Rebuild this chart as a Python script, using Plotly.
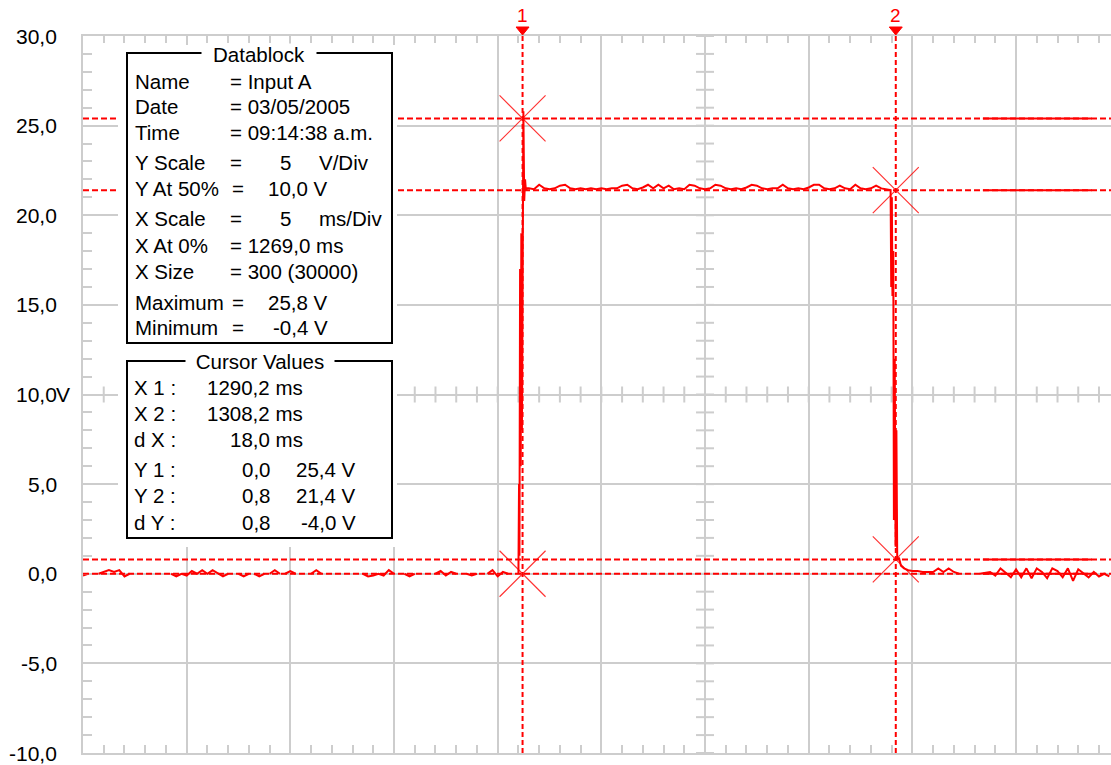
import plotly.graph_objects as go

# ---------------- acquisition / display settings ----------------
T0 = 1269.0            # X At 0 % (ms)
T_END = 1318.58        # right edge of the visible window (ms)
T_CENTER = 1299.0      # time of the crossed-tick reference axis
V_MIN, V_MAX = -10.0, 30.0
V_CENTER = 10.0        # Y At 50 %
DT = 0.25              # sample spacing of the stored trace (ms)

y_tick_vals = [30, 25, 20, 15, 10, 5, 0, -5, -10]
y_tick_text = ["30,0", "25,0", "20,0", "15,0", "10,0", "5,0", "0,0", "-5,0", "-10,0"]
y_center_unit = "V"

# ---------------- cursors ----------------
cursor_x = [1290.2, 1308.2]      # X1, X2 (ms)
cursor_ya = [0.0, 0.8]           # first Y reading per cursor (V)
cursor_yb = [25.4, 21.4]         # second Y reading per cursor (V)

# ---------------- captured waveform (V) ----------------
pre_v = [-0.1, 0, 0, 0, 0.1, 0.2, 0.1, 0.2, -0.15, 0,
         0, 0, 0, 0, 0, 0, 0, 0, -0.15, 0,
         -0.1, 0.15, 0, 0.2, 0, 0.2, 0, -0.15, 0, 0,
         0, -0.15, 0, 0, -0.15, 0, 0, 0.2, 0, 0,
         0.15, 0, 0, 0, 0, 0.2, 0, 0, 0, 0,
         0, 0, 0, 0, 0, -0.15, -0.1, 0, -0.1, 0.2,
         0, 0, 0, -0.15, 0, 0, 0, 0, 0, 0.15,
         -0.1, 0.1, 0, 0, 0, -0.1, 0, 0, 0, 0.2,
         -0.15, 0.1, 0, 0]

rise_t = [1290.00, 1290.03, 1290.05, 1290.08, 1290.11, 1290.14, 1290.17,
          1290.20, 1290.24, 1290.28, 1290.32, 1290.36, 1290.42]
rise_v = [0.0, 5.0, 1.0, 17.0, 6.0, 19.0, 8.0, 21.0, 25.8, 20.8, 22.0, 21.4, 21.5]

high_t0 = 1290.5
high_v = [21.5, 21.45, 21.7, 21.5, 21.45, 21.5, 21.65, 21.7, 21.5, 21.45,
          21.5, 21.45, 21.5, 21.45, 21.5, 21.45, 21.5, 21.5, 21.65, 21.7,
          21.5, 21.45, 21.55, 21.7, 21.5, 21.7, 21.5, 21.65, 21.45, 21.5,
          21.45, 21.7, 21.65, 21.5, 21.45, 21.5, 21.7, 21.65, 21.5, 21.45,
          21.5, 21.45, 21.55, 21.7, 21.65, 21.5, 21.45, 21.5, 21.5, 21.7,
          21.5, 21.45, 21.5, 21.45, 21.55, 21.7, 21.7, 21.5, 21.45, 21.5,
          21.65, 21.5, 21.45, 21.7, 21.5, 21.45, 21.5, 21.65, 21.5, 21.45]

fall_t = [1307.95, 1307.98, 1308.01, 1308.04, 1308.08, 1308.11, 1308.15,
          1308.19, 1308.23, 1308.27, 1308.35, 1308.45, 1308.60, 1308.80]
fall_v = [21.4, 16.0, 21.0, 15.5, 18.0, 3.0, 12.0, 1.5, 8.0, 0.8, 0.9, 0.45, 0.3, 0.2]

post_t0 = 1309.0
post_v = [0.15, 0.15, 0.1, 0.1, 0.1, 0.3, 0.1, 0.3, 0.1, 0,
          0, 0, 0, 0, 0.05, 0.1, -0.1, 0.3, 0.05, -0.2,
          0.25, -0.2, 0.3, -0.25, 0.3, 0.1, -0.25, 0.3, 0.15, -0.2,
          0.3, -0.4, 0.25, 0.05, -0.2, 0.1, -0.15, 0, -0.15]

# span where the levels are held solid on screen
hold_t = [1312.4, 1317.65]

# ---------------- page geometry ----------------
W, H = 1111, 765
ML, MR, MT, MB = 83, 0, 36, 12
PW, PH = W - ML - MR, H - MT - MB

GRID = "#cdcdcd"
RED = "#ff0000"
FONT = "Liberation Sans, Arial, sans-serif"


def fx(px):
    return (px - ML) / PW


def fy(py):
    return (H - MB - py) / PH


def dec(v):
    return f"{v:.1f}".replace(".", ",")


# assemble the sample record
pre_t = [T0 + DT * i for i in range(len(pre_v))]
high_t = [high_t0 + DT * k for k in range(len(high_v))]
post_t = [post_t0 + DT * j for j in range(len(post_v))]
wave_t = pre_t + rise_t + high_t + fall_t + post_t
wave_v = pre_v + rise_v + high_v + fall_v + post_v

# samples sitting exactly on the 0 V cursor line are XOR-drawn away
px_t, px_v = [], []
for i in range(len(wave_t)):
    px_t.append(wave_t[i])
    px_v.append(wave_v[i])
    if i + 1 < len(wave_t) and wave_v[i] == 0 and wave_v[i + 1] == 0:
        px_t.append(None)
        px_v.append(None)

fig = go.Figure()

fig.add_trace(go.Scatter(x=px_t, y=px_v, mode="lines",
                         line=dict(color=RED, width=2),
                         connectgaps=False, hoverinfo="skip", showlegend=False))

# solid held levels
levels = cursor_yb + cursor_ya
hx, hy = [], []
for lv in levels:
    hx += [hold_t[0], hold_t[1], None]
    hy += [lv, lv, None]
fig.add_trace(go.Scatter(x=hx, y=hy, mode="lines", line=dict(color=RED, width=2),
                         hoverinfo="skip", showlegend=False))

# cursor crossing markers
mx = [cursor_x[0], cursor_x[0], cursor_x[1], cursor_x[1]]
my = [cursor_yb[0], cursor_ya[0], cursor_yb[1], cursor_ya[1]]
fig.add_trace(go.Scatter(x=mx, y=my, mode="markers",
                         marker=dict(symbol="x-thin", size=46,
                                     line=dict(color="rgba(255,0,0,0.8)", width=1.2)),
                         hoverinfo="skip", showlegend=False))

# carrier for the top border axis
fig.add_trace(go.Scatter(x=[T0], y=[V_MIN], xaxis="x2", mode="markers",
                         marker=dict(size=1, opacity=0), hoverinfo="skip",
                         showlegend=False))

shapes = []
# crossed ticks on the centre reference axes
t = int(T0) + 1
while t < T_END:
    shapes.append(dict(type="line", xref="x", yref="y", x0=t, x1=t,
                       ysizemode="pixel", yanchor=V_CENTER, y0=-8, y1=8,
                       line=dict(color=GRID, width=2), layer="below"))
    t += 1
for v in range(int(V_MIN), int(V_MAX) + 1):
    shapes.append(dict(type="line", xref="x", yref="y", y0=v, y1=v,
                       xsizemode="pixel", xanchor=T_CENTER, x0=-9, x1=9,
                       line=dict(color=GRID, width=2), layer="below"))

# dashed cursor lines
for cx in cursor_x:
    shapes.append(dict(type="line", xref="x", yref="y", x0=cx, x1=cx,
                       y0=V_MIN, y1=V_MAX,
                       line=dict(color=RED, width=2, dash="5px,3px")))
for cy in cursor_ya + cursor_yb:
    shapes.append(dict(type="line", xref="x", yref="y", x0=T0, x1=T_END,
                       y0=cy, y1=cy,
                       line=dict(color=RED, width=2, dash="6px,3px")))

# cursor flags (small down-pointing triangles above the graticule)
for cx in cursor_x:
    shapes.append(dict(type="path", xref="x", yref="paper",
                       xsizemode="pixel", ysizemode="pixel",
                       xanchor=cx, yanchor=1,
                       path="M-6.5,9 L6.5,9 L0,1 Z",
                       fillcolor=RED, line=dict(color=RED, width=1)))

# information panels
shapes.append(dict(type="rect", xref="paper", yref="paper",
                   x0=fx(118), x1=fx(397), y0=fy(547), y1=fy(45),
                   fillcolor="white", line=dict(width=0)))
shapes.append(dict(type="rect", xref="paper", yref="paper",
                   x0=fx(127), x1=fx(392), y0=fy(343), y1=fy(53),
                   fillcolor="white", line=dict(color="black", width=2)))
shapes.append(dict(type="rect", xref="paper", yref="paper",
                   x0=fx(127), x1=fx(392), y0=fy(538), y1=fy(361),
                   fillcolor="white", line=dict(color="black", width=2)))

ann = []
TXT = dict(family=FONT, size=20.5, color="black")


def text(s, xpx, ypx, anchor="left", font=TXT, **kw):
    ann.append(dict(text=s, xref="paper", yref="paper", x=fx(xpx), y=fy(ypx),
                    xanchor=anchor, yanchor="middle", showarrow=False,
                    font=font, **kw))


# y tick labels
for val, lab in zip(y_tick_vals, y_tick_text):
    ann.append(dict(text=lab, xref="paper", yref="y", x=fx(59), y=val,
                    xanchor="right", yanchor="middle", showarrow=False,
                    font=dict(family=FONT, size=21, color="black")))
    if val == V_CENTER:
        ann.append(dict(text=y_center_unit, xref="paper", yref="y", x=fx(54), y=val,
                        xanchor="left", yanchor="middle", showarrow=False,
                        font=dict(family=FONT, size=21, color="black")))

# cursor numbers
for i, cx in enumerate(cursor_x):
    ann.append(dict(text=str(i + 1), xref="x", yref="paper", x=cx, y=fy(15),
                    xanchor="center", yanchor="middle", showarrow=False,
                    font=dict(family=FONT, size=19, color=RED)))

# Datablock
text("Datablock", 259, 54, "center", bgcolor="white", width=112, height=18)
v_max = max(wave_v)
v_min = min(wave_v)
datablock = [
    (82, [("Name", 133, "left"), ("= Input A", 228, "left")]),
    (107, [("Date", 133, "left"), ("= 03/05/2005", 228, "left")]),
    (133, [("Time", 133, "left"), ("= 09:14:38 a.m.", 228, "left")]),
    (163, [("Y Scale", 133, "left"), ("=", 228, "left"), ("5", 293, "right"),
           ("V/Div", 317, "left")]),
    (189, [("Y At 50%", 133, "left"), ("=", 230, "left"),
           (dec(V_CENTER) + " V", 330, "right")]),
    (218, [("X Scale", 133, "left"), ("=", 228, "left"), ("5", 293, "right"),
           ("ms/Div", 317, "left")]),
    (245, [("X At 0%", 133, "left"), ("= " + dec(T0) + " ms", 228, "left")]),
    (271, [("X Size", 133, "left"), ("= 300 (30000)", 228, "left")]),
    (302, [("Maximum", 133, "left"), ("=", 230, "left"), (dec(v_max) + " V", 330, "right")]),
    (327, [("Minimum", 133, "left"), ("=", 230, "left"), (dec(v_min) + " V", 330, "right")]),
]
for ypx, items in datablock:
    for s, xpx, a in items:
        text(s, xpx, ypx, a)

# Cursor Values
text("Cursor Values", 260, 361, "center", bgcolor="white", width=146, height=18)
dx = cursor_x[1] - cursor_x[0]
cursor_rows = [
    (388, "X 1 :", [(dec(cursor_x[0]) + " ms", 305)]),
    (413, "X 2 :", [(dec(cursor_x[1]) + " ms", 305)]),
    (439, "d X :", [(dec(dx) + " ms", 305)]),
    (469, "Y 1 :", [(dec(cursor_ya[0]), 273), (dec(cursor_yb[0]) + " V", 358)]),
    (495, "Y 2 :", [(dec(cursor_ya[1]), 273), (dec(cursor_yb[1]) + " V", 358)]),
    (522, "d Y :", [(dec(cursor_ya[1] - cursor_ya[0]), 273),
                    (dec(cursor_yb[1] - cursor_yb[0]) + " V", 358)]),
]
for ypx, lab, vals in cursor_rows:
    text(lab, 132, ypx, "left")
    for s, xpx in vals:
        text(s, xpx, ypx, "right")

axis_common = dict(showticklabels=False, zeroline=False, fixedrange=True)

fig.update_layout(
    width=W, height=H,
    margin=dict(l=ML, r=MR, t=MT, b=MB, pad=0),
    paper_bgcolor="white", plot_bgcolor="white",
    showlegend=False,
    xaxis=dict(range=[T0, T_END], tick0=T0, dtick=5, showgrid=True,
               gridcolor=GRID, gridwidth=2, ticks="inside", ticklen=8,
               tickcolor=GRID, tickwidth=2, showline=True, linecolor=GRID,
               linewidth=2,
               minor=dict(tick0=T0, dtick=1, ticks="inside", ticklen=8,
                          tickcolor=GRID, tickwidth=2, showgrid=False),
               **axis_common),
    xaxis2=dict(overlaying="x", matches="x", side="top", anchor="y",
                range=[T0, T_END], tick0=T0, dtick=5, showgrid=False,
                ticks="inside", ticklen=7, tickcolor=GRID, tickwidth=2,
                showline=True, linecolor=GRID, linewidth=2,
                minor=dict(tick0=T0, dtick=1, ticks="inside", ticklen=7,
                           tickcolor=GRID, tickwidth=2, showgrid=False),
                **axis_common),
    yaxis=dict(range=[V_MIN, V_MAX], tick0=0, dtick=5, showgrid=True,
               gridcolor=GRID, gridwidth=2, ticks="inside", ticklen=9,
               tickcolor=GRID, tickwidth=2, showline=True, linecolor=GRID,
               linewidth=2,
               minor=dict(tick0=0, dtick=1, ticks="inside", ticklen=9,
                          tickcolor=GRID, tickwidth=2, showgrid=False),
               **axis_common),
    shapes=shapes,
    annotations=ann,
    font=dict(family=FONT),
)

fig.write_html("out.html", config=dict(displayModeBar=False))
